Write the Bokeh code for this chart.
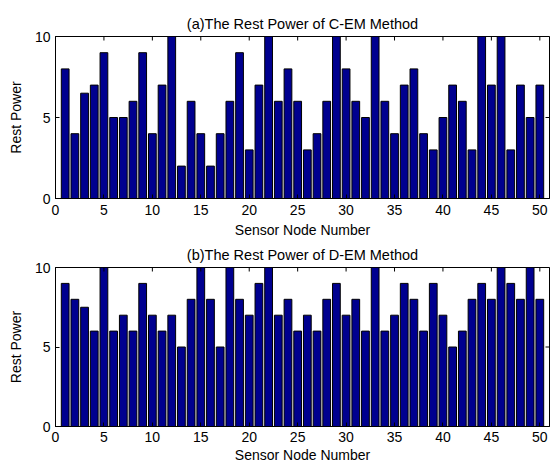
import math
from bokeh.plotting import figure
from bokeh.layouts import column
from bokeh.models import Range1d, FixedTicker
from bokeh.embed import file_html
from bokeh.resources import INLINE

nodes = list(range(1, 51))
cem_power = [8, 4, 6.5, 7, 9, 5, 5, 6, 9, 4, 7, 10, 2, 6, 4, 2, 4, 6, 9, 3,
             7, 10, 6, 8, 6, 3, 4, 6, 10, 8, 6, 5, 10, 6, 4, 7, 8, 4, 3, 5,
             7, 6, 3, 10, 7, 10, 3, 7, 5, 7]
dem_power = [9, 8, 7.5, 6, 10, 6, 7, 6, 9, 7, 6, 7, 5, 8, 10, 8, 5, 10, 8, 7,
             9, 10, 7, 8, 6, 7, 6, 8, 9, 7, 8, 6, 10, 6, 7, 9, 8, 6, 9, 7,
             5, 6, 8, 9, 8, 10, 9, 8, 10, 8]
x_ticks = [0, 5, 10, 15, 20, 25, 30, 35, 40, 45, 50]
y_ticks = [0, 5, 10]
titles = ["(a)The Rest Power of C-EM Method", "(b)The Rest Power of D-EM Method"]
x_label = "Sensor Node Number"
y_label = "Rest Power"

FONT = "Liberation Sans"
X_MAX = 51
Y_MAX = 10


def make(title, values, height, top, bottom, tick_standoff, label_standoff):
    p = figure(width=551, height=height, output_backend="svg", toolbar_location=None,
               x_range=Range1d(0, X_MAX), y_range=Range1d(0, Y_MAX),
               min_border_left=55, min_border_right=2,
               min_border_top=top, min_border_bottom=bottom)
    p.title.text = title
    p.title.align = "center"
    p.title.text_font = FONT
    p.title.text_font_size = "14.5px"
    p.title.text_font_style = "normal"
    p.title.text_color = "black"
    p.title.standoff = 9
    p.vbar(x=nodes, top=values, width=0.8, fill_color="#00008F",
           line_color="black", line_width=1)
    # inside tick marks on the top and right frame edges (MATLAB "box on")
    p.scatter(x=x_ticks, y=[Y_MAX] * len(x_ticks), marker="dash", angle=math.pi / 2,
              size=8, line_color="black", line_width=1)
    p.scatter(x=[X_MAX] * len(y_ticks), y=y_ticks, marker="dash",
              size=8, line_color="black", line_width=1)
    p.xgrid.visible = False
    p.ygrid.visible = False
    p.outline_line_color = "black"
    p.outline_line_width = 1
    p.outline_line_alpha = 1
    p.background_fill_color = "white"
    p.border_fill_color = "white"

    for ax in p.xaxis:
        ax.ticker = FixedTicker(ticks=x_ticks)
        ax.axis_label = x_label
    for ax in p.yaxis:
        ax.ticker = FixedTicker(ticks=y_ticks)
        ax.axis_label = y_label
    for ax in p.xaxis + p.yaxis:
        ax.major_tick_in = 4
        ax.major_tick_out = 0
        ax.minor_tick_line_color = None
        ax.major_label_text_font = FONT
        ax.major_label_text_font_size = "14px"
        ax.major_label_text_color = "black"
        ax.axis_label_text_font = FONT
        ax.axis_label_text_font_size = "14px"
        ax.axis_label_text_font_style = "normal"
        ax.axis_label_text_color = "black"
        ax.axis_line_color = "black"
        ax.major_tick_line_color = "black"
    p.xaxis.major_label_standoff = tick_standoff
    p.xaxis.axis_label_standoff = label_standoff
    p.yaxis.major_label_standoff = 5
    p.yaxis.axis_label_standoff = 8
    return p


p1 = make(titles[0], cem_power, 240, 36, 42, 6, 4)
p2 = make(titles[1], dem_power, 225, 27, 38, 5, 2)
layout = column(p1, p2, spacing=0)

open("out.html", "w").write(file_html(layout, INLINE))
